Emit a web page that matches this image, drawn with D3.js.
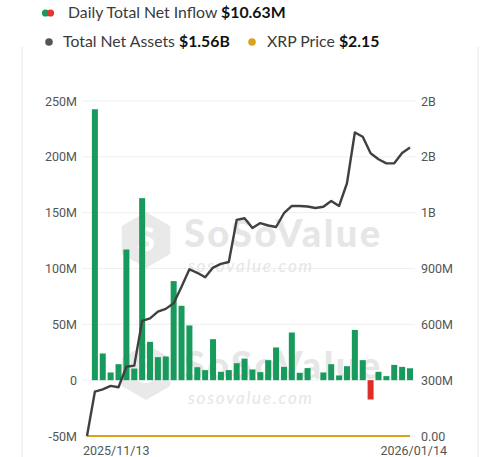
<!DOCTYPE html>
<html><head><meta charset="utf-8">
<script src="https://cdn.jsdelivr.net/npm/d3@7"></script>
<style>
html,body{margin:0;padding:0;background:#fff;}
svg{display:block;}
</style></head>
<body>
<svg id="chart" width="500" height="457"></svg>
<script>
const dates = ["2025/11/13","2025/11/14","2025/11/17","2025/11/18","2025/11/19","2025/11/20","2025/11/21","2025/11/24","2025/11/25","2025/11/26","2025/11/28",
"2025/12/01","2025/12/02","2025/12/03","2025/12/04","2025/12/05","2025/12/08","2025/12/09","2025/12/10","2025/12/11","2025/12/12",
"2025/12/15","2025/12/16","2025/12/17","2025/12/18","2025/12/19","2025/12/22","2025/12/23","2025/12/24","2025/12/26","2025/12/29","2025/12/30","2025/12/31",
"2026/01/02","2026/01/05","2026/01/06","2026/01/07","2026/01/08","2026/01/09","2026/01/12","2026/01/13","2026/01/14"];
// Daily total net inflow, in millions USD
const netInflow = [0,242.6,23.9,6.9,14.3,117,10.4,163,34.3,20.6,21.2,88.7,66.6,49,11.6,9,36.7,7.5,9,15.2,19.3,
9.6,7.2,17.9,29.3,11.9,42.7,6.6,10.8,0,6.9,14.3,4.2,12.5,45,17.9,-17.3,7.5,3.6,13.7,11.9,10.63];
// Total net assets, in billions USD
const netAssets = [0,0.238,0.251,0.269,0.262,0.372,0.378,0.619,0.632,0.668,0.683,0.713,0.802,0.896,0.877,0.853,0.905,0.925,0.935,1.161,1.170,
1.118,1.144,1.131,1.123,1.197,1.236,1.236,1.233,1.225,1.232,1.263,1.236,1.358,1.631,1.608,1.519,1.487,1.465,1.465,1.521,1.550];
// XRP price, USD (flat on the asset scale)
const xrpPrice = [2.45,2.38,2.25,2.18,2.13,2.05,1.97,2.15,2.22,2.19,2.20,2.05,2.18,2.20,2.10,2.03,2.08,2.03,2.07,2.00,2.01,
1.97,1.88,1.86,1.84,1.92,1.90,1.87,1.86,1.88,1.86,1.87,1.84,2.00,2.35,2.20,2.16,2.13,2.10,2.08,2.07,2.15];
const leftTicks = [-50,0,50,100,150,200,250];
const leftTickLabels = ["-50M","0","50M","100M","150M","200M","250M"];
const rightTicks = [0,0.3,0.6,0.9,1.2,1.5,1.8];
const rightTickLabels = ["0.00","300M","600M","900M","1B","2B","2B"];
const legendItems = [
  {name:"Daily Total Net Inflow", value:"$10.63M"},
  {name:"Total Net Assets", value:"$1.56B"},
  {name:"XRP Price", value:"$2.15"}
];

const svg = d3.select("#chart");
const W = 500, H = 457;
const plotTop = 101, plotBottom = 436;
const x = d3.scalePoint().domain(dates).range([87, 410]);
const yL = d3.scaleLinear().domain([-50, 250]).range([plotBottom, plotTop]);
const yR = d3.scaleLinear().domain([0, 1.8]).range([plotBottom, plotTop]);

svg.append("rect").attr("width", W).attr("height", H).attr("fill", "#fff");

// card side borders
svg.append("line").attr("x1",22).attr("x2",22).attr("y1",47).attr("y2",H).attr("stroke","#e4e4e4").attr("stroke-width",1);
svg.append("line").attr("x1",478).attr("x2",478).attr("y1",47).attr("y2",H).attr("stroke","#e4e4e4").attr("stroke-width",1);

// gridlines
svg.append("g").selectAll("line").data(leftTicks).join("line")
  .attr("x1", 82).attr("x2", 415)
  .attr("y1", d => yL(d)).attr("y2", d => yL(d))
  .attr("stroke", "#efefef").attr("stroke-width", 1);

// watermarks
function watermark(dy) {
  const g = svg.append("g").attr("transform", `translate(0,${dy})`).attr("fill", "#e6e6e6");
  const cx = 146, cy = 240, r = 28;
  const pts = d3.range(6).map(i => {
    const a = Math.PI / 3 * i + Math.PI / 6;
    return [cx + r * Math.cos(a), cy + r * Math.sin(a)];
  });
  g.append("path").attr("d", "M" + pts.join("L") + "Z").attr("fill", "#e9e9e9");
  g.append("text").attr("x", cx).attr("y", cy + 11).attr("text-anchor", "middle")
    .attr("font-family", "Lato, sans-serif").attr("font-weight", 900).attr("font-size", 32).attr("fill", "#fff").text("S");
  g.append("text").attr("x", 184).attr("y", 247).attr("font-family", "Lato, sans-serif")
    .attr("font-weight", 900).attr("font-size", 38).attr("textLength", 196).text("SoSoValue");
  g.append("text").attr("x", 188).attr("y", 272).attr("font-family", "Lato, sans-serif")
    .attr("font-style", "italic").attr("font-size", 17).attr("textLength", 124).text("sosovalue.com");
}
watermark(0);
watermark(132);

// bars
svg.append("g").selectAll("rect").data(netInflow.map((v, i) => ({d: dates[i], v})).filter(e => e.v !== 0)).join("rect")
  .attr("x", e => x(e.d) - 3)
  .attr("width", 6)
  .attr("y", e => Math.min(yL(e.v), yL(0)))
  .attr("height", e => Math.abs(yL(e.v) - yL(0)))
  .attr("fill", e => e.v >= 0 ? "#179a5b" : "#db2f27");

// XRP price line (plotted on asset axis)
svg.append("path").datum(xrpPrice.map((v, i) => [x(dates[i]), yR(v / 1e9)]))
  .attr("d", d3.line()).attr("fill", "none").attr("stroke", "#d9a21b").attr("stroke-width", 2);

// net assets line
svg.append("path").datum(netAssets.map((v, i) => [x(dates[i]), yR(v)]))
  .attr("d", d3.line()).attr("fill", "none").attr("stroke", "#404040").attr("stroke-width", 2.4)
  .attr("stroke-linejoin", "round");

// left axis labels
svg.append("g").selectAll("text").data(leftTicks).join("text")
  .attr("x", 77).attr("y", d => yL(d)).attr("dy", "0.36em").attr("text-anchor", "end")
  .attr("font-family", "Roboto, sans-serif").attr("font-size", 12.5).attr("fill", "#555")
  .text((d, i) => leftTickLabels[i]);

// right axis labels
svg.append("g").selectAll("text").data(rightTicks).join("text")
  .attr("x", 421).attr("y", d => yR(d)).attr("dy", "0.36em").attr("text-anchor", "start")
  .attr("font-family", "Roboto, sans-serif").attr("font-size", 12.5).attr("fill", "#555")
  .text((d, i) => rightTickLabels[i]);

// x labels
svg.append("text").attr("x", 83).attr("y", 455).attr("font-family", "Roboto, sans-serif")
  .attr("font-size", 12.5).attr("fill", "#555").text(dates[0]);
svg.append("text").attr("x", 447).attr("y", 455).attr("text-anchor", "end").attr("font-family", "Roboto, sans-serif")
  .attr("font-size", 12.5).attr("fill", "#555").text(dates[dates.length - 1]);

// legend
const lg = svg.append("g").attr("font-family", "Lato, sans-serif").attr("font-size", 15.8);
lg.append("circle").attr("cx", 45.5).attr("cy", 13).attr("r", 3.6).attr("fill", "#179a5b");
lg.append("circle").attr("cx", 50.5).attr("cy", 13).attr("r", 3.6).attr("fill", "#e0362c");
const t1 = lg.append("text").attr("x", 68).attr("y", 18).attr("fill", "#3a3a3a");
t1.append("tspan").text(legendItems[0].name + " ");
t1.append("tspan").attr("font-weight", 700).attr("fill", "#111").text(legendItems[0].value);

lg.append("circle").attr("cx", 49).attr("cy", 42).attr("r", 3.8).attr("fill", "#555");
const t2 = lg.append("text").attr("x", 63).attr("y", 47).attr("fill", "#3a3a3a");
t2.append("tspan").text(legendItems[1].name + " ");
t2.append("tspan").attr("font-weight", 700).attr("fill", "#111").text(legendItems[1].value);

lg.append("circle").attr("cx", 252).attr("cy", 42).attr("r", 3.8).attr("fill", "#d9a21b");
const t3 = lg.append("text").attr("x", 267).attr("y", 47).attr("fill", "#3a3a3a");
t3.append("tspan").text(legendItems[2].name + " ");
t3.append("tspan").attr("font-weight", 700).attr("fill", "#111").text(legendItems[2].value);
</script>
</body></html>
